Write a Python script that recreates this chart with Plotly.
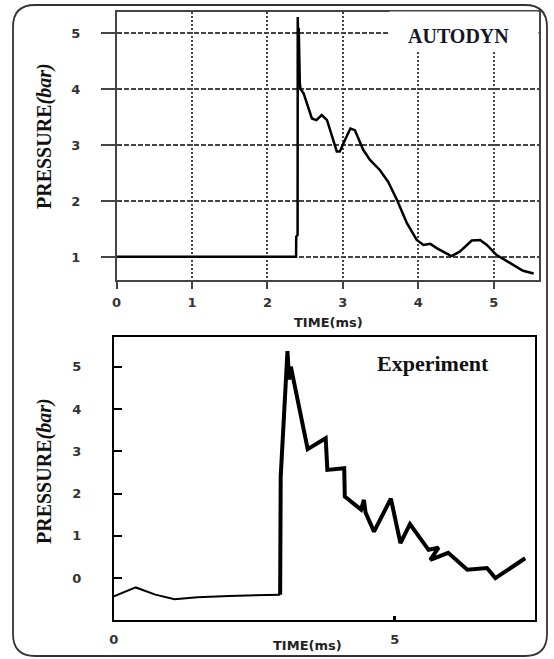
import plotly.graph_objects as go

W, H = 554, 659

# ---------------- data ----------------
# AUTODYN (top panel)
auto_t = [0.0, 1.0, 2.0, 2.38, 2.382, 2.40, 2.402, 2.41, 2.415, 2.42, 2.425, 2.43, 2.44,
          2.48, 2.59, 2.65, 2.72, 2.79, 2.92, 2.96, 3.03, 3.10, 3.16, 3.27, 3.36, 3.49,
          3.60, 3.72, 3.85, 3.98, 4.07, 4.16, 4.25, 4.44, 4.55, 4.71, 4.82, 4.91, 5.04,
          5.22, 5.39, 5.53]
auto_p = [1.01, 1.01, 1.01, 1.01, 1.37, 1.40, 5.29, 4.6, 5.1, 4.3, 4.9, 4.1, 4.0,
          3.93, 3.48, 3.45, 3.54, 3.45, 2.89, 2.89, 3.10, 3.30, 3.27, 2.92, 2.74, 2.56,
          2.35, 2.02, 1.61, 1.31, 1.22, 1.24, 1.16, 1.02, 1.10, 1.30, 1.31, 1.22, 1.04,
          0.89, 0.76, 0.71]

# Experiment (bottom panel)
exp_t_pre = [0.0, 0.39, 0.74, 1.08, 1.49, 2.05, 2.96]
exp_p_pre = [-0.43, -0.22, -0.39, -0.50, -0.45, -0.42, -0.39]
exp_t_post = [2.96, 2.97, 3.09, 3.12, 3.15, 3.45, 3.77, 3.80, 4.10, 4.11, 4.40, 4.45,
              4.48, 4.63, 4.93, 5.10, 5.27, 5.60, 5.78, 5.63, 5.95, 6.29, 6.64, 6.79, 7.32]
exp_p_post = [-0.39, 2.4, 5.37, 4.7, 5.0, 3.05, 3.31, 2.56, 2.60, 1.93, 1.62, 1.85,
              1.55, 1.10, 1.88, 0.83, 1.28, 0.67, 0.72, 0.43, 0.60, 0.20, 0.24, 0.0, 0.47]

top_xticks = [0, 1, 2, 3, 4, 5]
top_yticks = [1, 2, 3, 4, 5]
bot_xticks = [0, 5]
bot_yticks = [0, 1, 2, 3, 4, 5]

# ---------------- helpers ----------------
def px(x):
    return x / W

def py(y):
    return 1 - y / H

fig = go.Figure()
fig.add_trace(go.Scatter(x=auto_t, y=auto_p, mode="lines",
                         line=dict(color="black", width=2.5),
                         xaxis="x", yaxis="y", showlegend=False))
fig.add_trace(go.Scatter(x=exp_t_pre, y=exp_p_pre, mode="lines",
                         line=dict(color="black", width=2),
                         xaxis="x2", yaxis="y2", showlegend=False))
fig.add_trace(go.Scatter(x=exp_t_post, y=exp_p_post, mode="lines",
                         line=dict(color="black", width=4),
                         xaxis="x2", yaxis="y2", showlegend=False))

tickfont = dict(family="DejaVu Sans", size=13, color="#333", weight="bold")

fig.update_layout(
    width=W, height=H,
    margin=dict(l=0, r=0, t=0, b=0),
    paper_bgcolor="white", plot_bgcolor="white",
    template="none",
    xaxis=dict(domain=[px(116.6), px(538.9)], range=[0, 5.6], anchor="y",
               tickvals=top_xticks, ticks="outside", ticklen=7, tickwidth=1.5,
               tickcolor="#444", showline=True, linecolor="#444", linewidth=1.5,
               mirror=True, showgrid=True, gridcolor="#444", gridwidth=1.5,
               griddash="2px,2px", zeroline=False, tickfont=tickfont,
               ticklabelstandoff=3, automargin=False),
    yaxis=dict(domain=[py(280), py(11.7)], range=[0.595, 5.386], anchor="x",
               tickvals=top_yticks, ticks="outside", ticklen=14, tickwidth=1.5,
               tickcolor="#444", showline=True, linecolor="#444", linewidth=1.5,
               mirror=True, showgrid=True, gridcolor="#444", gridwidth=1.5,
               griddash="5px,2px", zeroline=False, tickfont=tickfont,
               ticklabelstandoff=18, automargin=False),
    xaxis2=dict(domain=[px(113.8), px(535.3)], range=[0, 7.5], anchor="y2",
                tickvals=bot_xticks, ticks="inside", ticklen=4, tickwidth=3,
                tickcolor="black", showline=True, linecolor="black", linewidth=2,
                mirror=True, showgrid=False, zeroline=False, tickfont=tickfont,
                ticklabelstandoff=6, automargin=False),
    yaxis2=dict(domain=[py(620), py(336.7)], range=[-0.99, 5.71], anchor="x2",
                tickvals=bot_yticks, ticks="inside", ticklen=8, tickwidth=1.5,
                tickcolor="black", showline=True, linecolor="black", linewidth=2,
                mirror=True, showgrid=False, zeroline=False, tickfont=tickfont,
                ticklabelstandoff=28, automargin=False),
)

# outer rounded frame
L, R, T, B = px(13), px(547), py(5), py(656)
rx, ry = px(22), 22 / H
path = (f"M {L+rx},{T} L {R-rx},{T} Q {R},{T} {R},{T-ry} L {R},{B+ry} "
        f"Q {R},{B} {R-rx},{B} L {L+rx},{B} Q {L},{B} {L},{B+ry} "
        f"L {L},{T-ry} Q {L},{T} {L+rx},{T} Z")
fig.add_shape(type="path", path=path, xref="paper", yref="paper",
              line=dict(color="#333", width=1.8), layer="above")

serif = "Liberation Serif"
common = dict(showarrow=False, xref="paper", yref="paper", xanchor="center", yanchor="middle")
anns = [
    # white box behind AUTODYN label
    dict(x=px(464), y=py(31), text=" ", width=146, height=36, bgcolor="white", **common),
    dict(x=px(458), y=py(35.5), text="<b>AUTODYN</b>",
         font=dict(family=serif, size=20, color="#15152a"), **common),
    dict(x=px(433), y=py(363), text="<b>Experiment</b>",
         font=dict(family=serif, size=22, color="#111"), **common),
    dict(x=px(44), y=py(136), text="<b>PRESSURE<i>(bar)</i></b>", textangle=-90,
         font=dict(family=serif, size=20, color="#111"), **common),
    dict(x=px(44), y=py(471), text="<b>PRESSURE<i>(bar)</i></b>", textangle=-90,
         font=dict(family=serif, size=20, color="#111"), **common),
    dict(x=px(328.6), y=py(322), text="<b>TIME(ms)</b>",
         font=dict(family="DejaVu Sans", size=13, color="#222"), **common),
    dict(x=px(307), y=py(645), text="<b>TIME(ms)</b>",
         font=dict(family="DejaVu Sans", size=13, color="#222"), **common),
]
fig.update_layout(annotations=anns)

fig.write_html("out.html")
